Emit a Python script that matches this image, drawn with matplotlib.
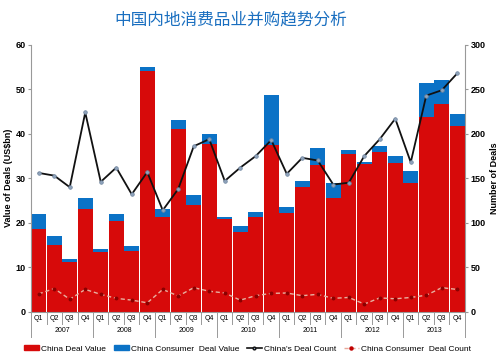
import matplotlib
matplotlib.use("Agg")
import matplotlib.pyplot as plt
from matplotlib.lines import Line2D
from matplotlib.patches import Patch

plt.rcParams['font.family'] = ['Liberation Sans', 'Noto Sans CJK SC', 'DejaVu Sans']

years = ["2007", "2008", "2009", "2010", "2011", "2012", "2013"]
quarters = ["Q1", "Q2", "Q3", "Q4"]

china_value = [18.6, 15.1, 11.2, 23.0, 13.5, 20.4, 13.7, 54.1,
               21.2, 41.1, 24.0, 37.7, 20.8, 18.0, 21.3, 37.5,
               22.1, 28.1, 33.1, 25.6, 35.4, 33.3, 36.0, 33.5,
               28.9, 43.8, 46.8, 41.7]
consumer_value_total = [21.9, 17.0, 11.8, 25.5, 14.2, 21.9, 14.8, 55.0,
                        23.2, 43.1, 26.2, 39.9, 21.3, 19.3, 22.5, 48.7,
                        23.6, 29.4, 36.9, 29.0, 36.3, 33.6, 37.2, 35.1,
                        31.6, 51.5, 52.1, 44.4]
china_count = [156, 153, 140, 224, 146, 162, 132, 157,
               114, 138, 186, 194, 147, 162, 175, 193,
               155, 173, 170, 143, 145, 175, 194, 217,
               168, 243, 249, 268]
consumer_count = [20, 26, 14, 25, 19.5, 15, 13, 10,
                  25, 17.6, 27, 23, 21, 13, 18, 20.6,
                  21, 18, 19.5, 15, 16, 8.6, 15.5, 14.5,
                  16, 18.5, 27, 25]

consumer_extra = [t - c for t, c in zip(consumer_value_total, china_value)]
n = len(china_value)
xs = list(range(n))

RED = '#d70a0a'
BLUE = '#0b72c6'

fig = plt.figure(figsize=(5.0, 3.62), dpi=100)
ax = fig.add_axes([0.062, 0.139, 0.868, 0.737])
ax2 = ax.twinx()

ax.bar(xs, china_value, width=0.94, color=RED, zorder=2)
ax.bar(xs, consumer_extra, bottom=china_value, width=0.94, color=BLUE, zorder=2)

ax.set_xlim(-0.5, n - 0.5)
ax.set_ylim(0, 60)
ax.set_yticks(range(0, 61, 10))
ax2.set_ylim(0, 300)
ax2.set_yticks(range(0, 301, 50))

ax2.plot(xs, consumer_count, color='#e8b0a0', lw=1.0, ls=(0, (3, 2)),
         marker='o', ms=1.8, mfc='#8b0000', mec='#8b0000', zorder=3)
ax2.plot(xs, china_count, color='#111111', lw=1.3,
         marker='o', ms=2.6, mfc='#8fa3bb', mec='#6f85a0', mew=0.5, zorder=4)

ax.set_zorder(ax2.get_zorder() - 1)
ax.patch.set_visible(False)

for a in (ax, ax2):
    a.spines['top'].set_visible(False)
    a.spines['bottom'].set_visible(False)
    a.spines['left'].set_color('#999999')
    a.spines['right'].set_color('#999999')
    a.tick_params(axis='y', labelsize=6.5, length=2, color='#999999', pad=2)
    for lab in a.get_yticklabels():
        lab.set_fontweight('bold')
ax.tick_params(axis='x', bottom=False, labelbottom=False)
ax2.spines['left'].set_visible(False)
ax.spines['right'].set_visible(False)

ax.set_ylabel("Value of Deals (US$bn)", fontsize=6.5, fontweight='bold', labelpad=2)
ax2.set_ylabel("Number of Deals", fontsize=6.5, fontweight='bold', labelpad=3)

# category axis boxes
trans = ax.get_xaxis_transform()
q_h = -0.048
y_h = -0.095
ax.plot([-0.5, n - 0.5], [0, 0], transform=trans, color='#999999', lw=0.8, clip_on=False)
for i in range(n):
    ax.text(i, q_h / 2, quarters[i % 4], transform=trans, ha='center', va='center',
            fontsize=5, clip_on=False)
for b in range(n + 1):
    x = b - 0.5
    bottom = y_h if b % 4 == 0 else q_h
    ax.plot([x, x], [0, bottom], transform=trans, color='#999999', lw=0.7, clip_on=False)
for k, yr in enumerate(years):
    ax.text(4 * k + 1.5, (q_h + y_h) / 2, yr, transform=trans, ha='center', va='center',
            fontsize=5, clip_on=False)

fig.text(0.462, 0.944, "中国内地消费品业并购趋势分析", ha='center', va='center',
         fontsize=12, color='#1a6fc0', family=['Noto Sans CJK SC', 'DejaVu Sans'])

handles = [
    Patch(color=RED, label='China Deal Value'),
    Patch(color=BLUE, label='China Consumer  Deal Value'),
    Line2D([0], [0], color='#111111', lw=1.2, marker='o', ms=2, mfc='#8fa3bb',
           label="China's Deal Count"),
    Line2D([0], [0], color='#e8a898', lw=1.0, ls=(0, (3, 2)), marker='o', ms=2.2,
           mfc='#c00000', mec='#c00000', label='China Consumer  Deal Count'),
]
fig.legend(handles=handles, loc='center', bbox_to_anchor=(0.495, 0.036), ncol=4,
           frameon=False, fontsize=6, handlelength=1.8, handletextpad=0.25,
           columnspacing=0.9, handleheight=0.6)

fig.savefig('out.png', dpi=100)
